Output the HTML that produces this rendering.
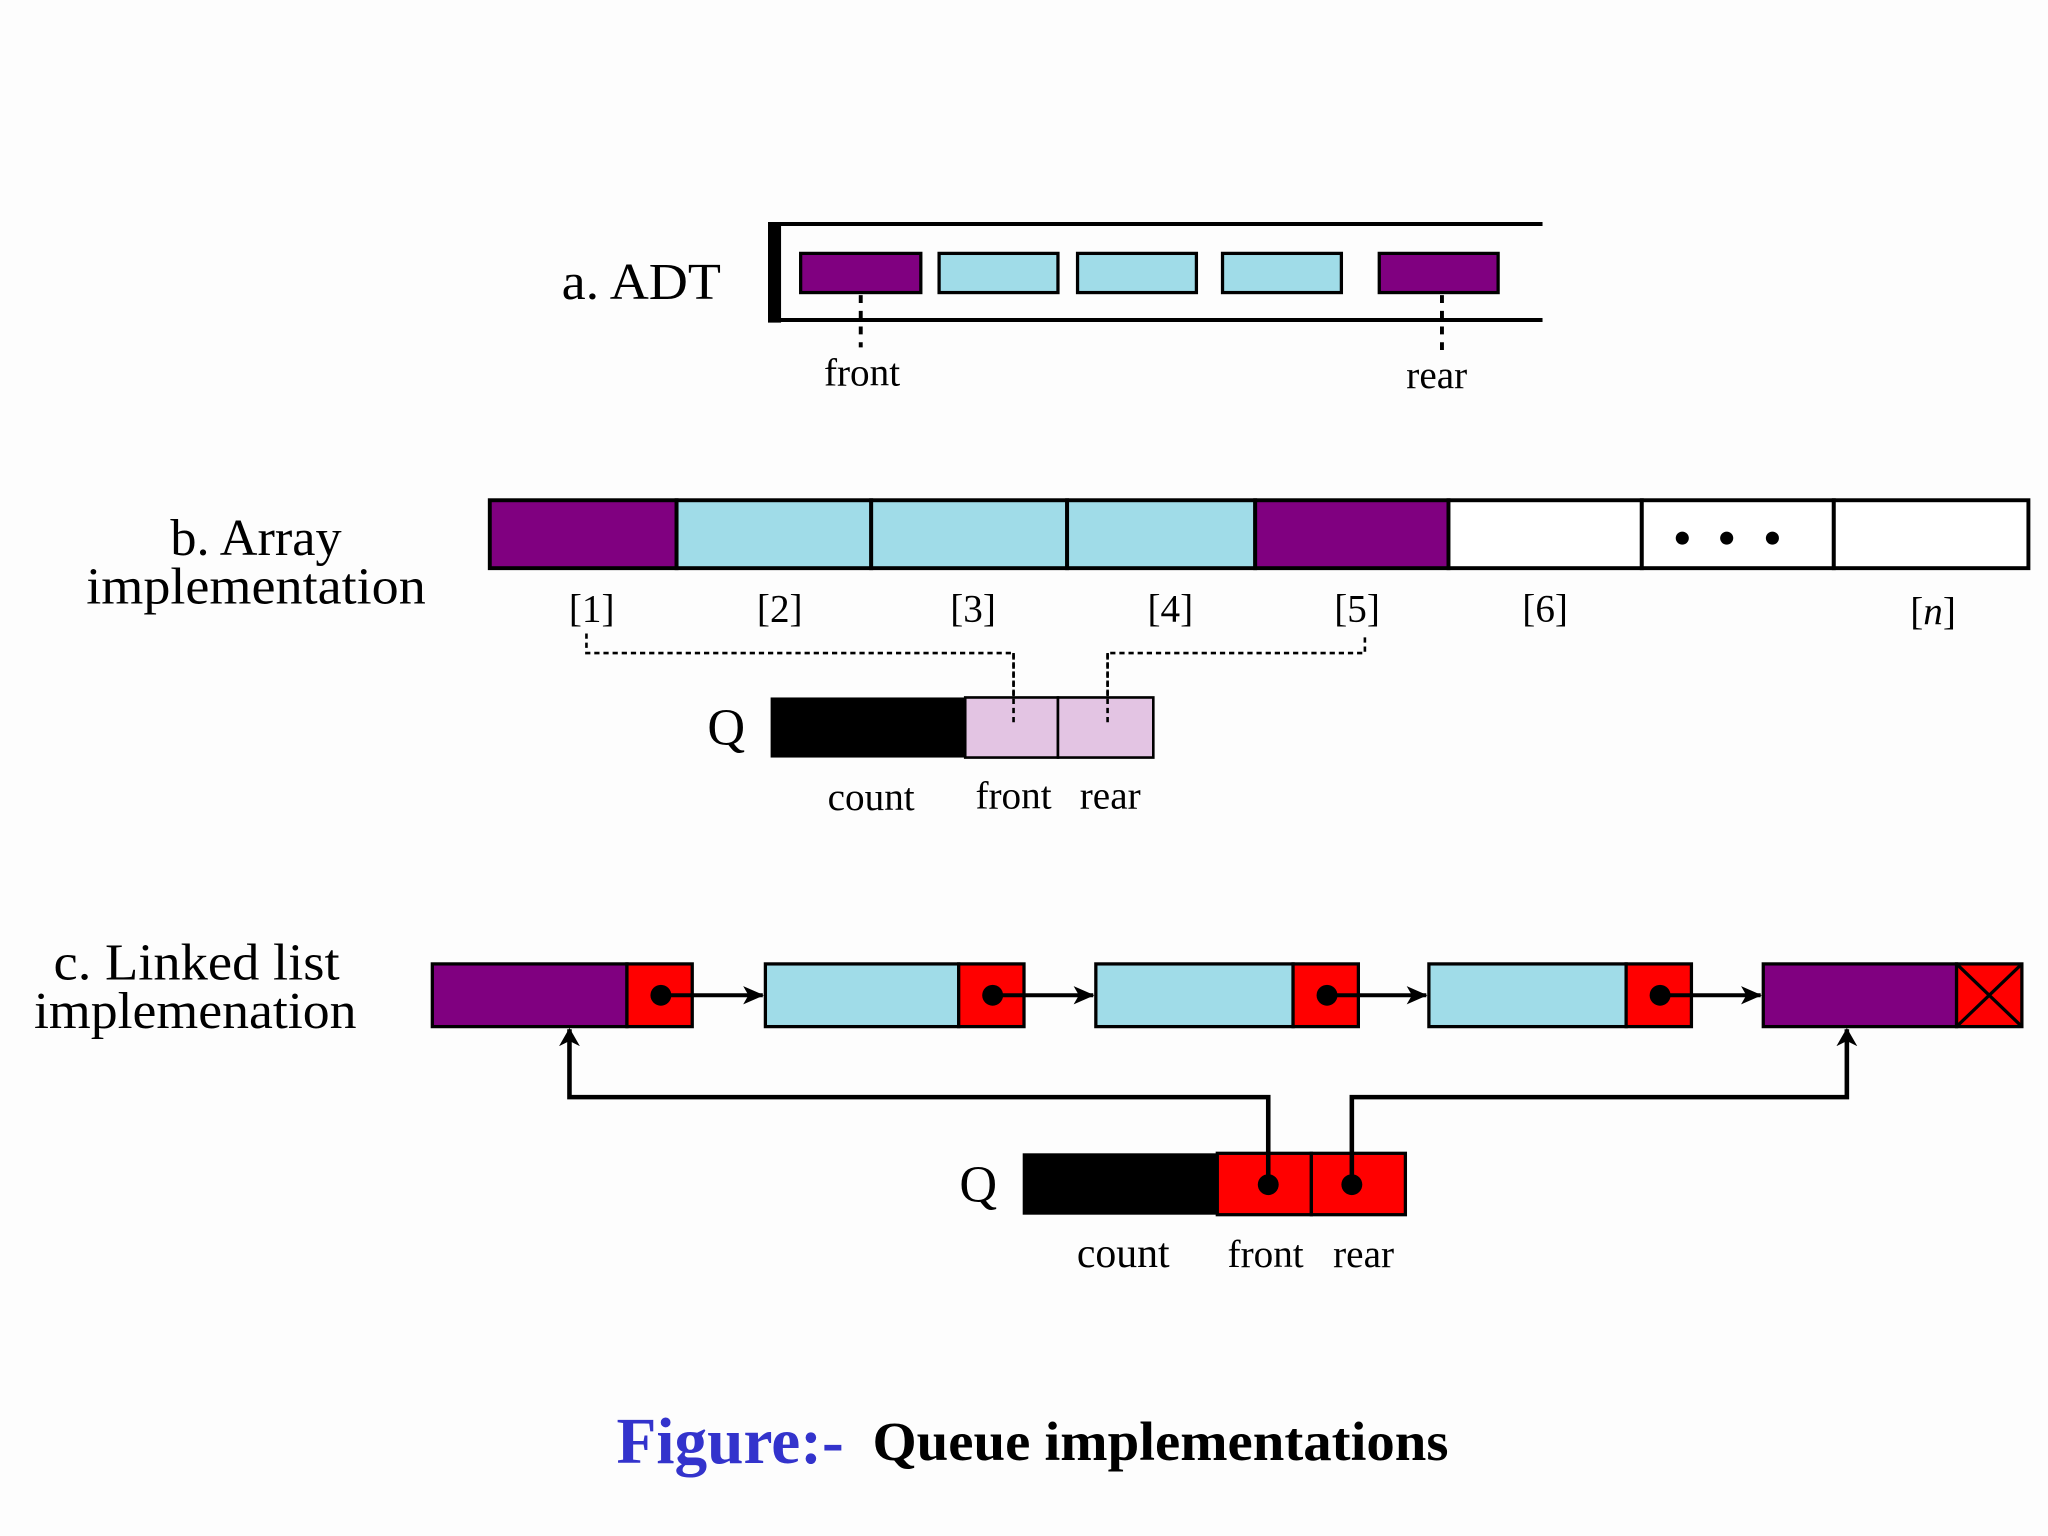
<!DOCTYPE html>
<html><head><meta charset="utf-8"><style>
html,body{margin:0;padding:0;background:#fdfdfd;}
svg{display:block;}
text{font-family:"Liberation Serif",serif;fill:#000;}
</style></head><body>
<svg width="2048" height="1536" viewBox="0 0 1568 1176" xmlns="http://www.w3.org/2000/svg">
<defs>
<marker id="ah" markerWidth="16" markerHeight="14" refX="15" refY="7" orient="auto" markerUnits="userSpaceOnUse">
<path d="M0,0 L16,7 L0,14 L4,7 z" fill="#000"/>
</marker>
<marker id="ah2" markerWidth="14" markerHeight="16" refX="13" refY="8" orient="auto" markerUnits="userSpaceOnUse">
<path d="M0,0 L14,8 L0,16 L4,8 z" fill="#000"/>
</marker>
</defs>
<rect width="1568" height="1176" fill="#fdfdfd"/>

<!-- a. ADT -->
<text x="430" y="229" font-size="40" textLength="122" lengthAdjust="spacingAndGlyphs">a. ADT</text>
<rect x="588" y="170" width="10" height="77" fill="#000"/>
<line x1="588" y1="171.5" x2="1181" y2="171.5" stroke="#000" stroke-width="3"/>
<line x1="588" y1="245" x2="1181" y2="245" stroke="#000" stroke-width="3"/>
<g stroke="#000" stroke-width="2.5">
<rect x="613" y="194" width="92" height="30" fill="#800080"/>
<rect x="719" y="194" width="91" height="30" fill="#a0dce8"/>
<rect x="825" y="194" width="91" height="30" fill="#a0dce8"/>
<rect x="936" y="194" width="91" height="30" fill="#a0dce8"/>
<rect x="1056" y="194" width="91" height="30" fill="#800080"/>
</g>
<line x1="659" y1="226" x2="659" y2="266" stroke="#000" stroke-width="3" stroke-dasharray="6,6"/>
<line x1="1104" y1="226" x2="1104" y2="272" stroke="#000" stroke-width="3" stroke-dasharray="6,6"/>
<text x="660" y="295" font-size="30" text-anchor="middle">front</text>
<text x="1100" y="297" font-size="30" text-anchor="middle">rear</text>

<!-- b. Array -->
<text x="196" y="425" font-size="40" text-anchor="middle">b. Array</text>
<text x="66" y="462" font-size="40" textLength="260" lengthAdjust="spacingAndGlyphs">implementation</text>
<g stroke="#000" stroke-width="3">
<rect x="375" y="383" width="143" height="52" fill="#800080"/>
<rect x="518" y="383" width="149" height="52" fill="#a0dce8"/>
<rect x="667" y="383" width="150" height="52" fill="#a0dce8"/>
<rect x="817" y="383" width="144" height="52" fill="#a0dce8"/>
<rect x="961" y="383" width="148" height="52" fill="#800080"/>
<rect x="1109" y="383" width="148" height="52" fill="#fff"/>
<rect x="1257" y="383" width="147" height="52" fill="#fff"/>
<rect x="1404" y="383" width="149" height="52" fill="#fff"/>
</g>
<circle cx="1288" cy="412" r="5"/><circle cx="1322" cy="412" r="5"/><circle cx="1357" cy="412" r="5"/>
<g font-size="30" text-anchor="middle">
<text x="453" y="476">[1]</text><text x="597" y="476">[2]</text><text x="745" y="476">[3]</text>
<text x="896" y="476">[4]</text><text x="1039" y="476">[5]</text><text x="1183" y="476">[6]</text>
<text x="1480" y="478">[<tspan font-style="italic">n</tspan>]</text>
</g>
<polyline points="449,485 449,500 776,500 776,556" fill="none" stroke="#000" stroke-width="2" stroke-dasharray="4,3"/>
<polyline points="1045,488 1045,500 848,500 848,556" fill="none" stroke="#000" stroke-width="2" stroke-dasharray="4,3"/>
<rect x="590" y="534" width="149" height="46" fill="#000"/>
<g stroke="#000" stroke-width="2">
<rect x="739" y="534" width="71" height="46" fill="#e3c4e3"/>
<rect x="810" y="534" width="73" height="46" fill="#e3c4e3"/>
</g>
<polyline points="776,500 776,556" fill="none" stroke="#000" stroke-width="2" stroke-dasharray="4,3"/>
<polyline points="848,500 848,556" fill="none" stroke="#000" stroke-width="2" stroke-dasharray="4,3"/>
<text x="556" y="570" font-size="40" text-anchor="middle">Q</text>
<text x="667" y="620" font-size="30" text-anchor="middle">count</text>
<text x="776" y="619" font-size="30" text-anchor="middle">front</text>
<text x="850" y="619" font-size="30" text-anchor="middle">rear</text>

<!-- c. Linked list -->
<text x="41" y="750" font-size="40" textLength="219" lengthAdjust="spacingAndGlyphs">c. Linked list</text>
<text x="26" y="787" font-size="40" textLength="247" lengthAdjust="spacingAndGlyphs">implemenation</text>
<g stroke="#000" stroke-width="2.5">
<rect x="331" y="738" width="149" height="48" fill="#800080"/><rect x="480" y="738" width="50" height="48" fill="#f00"/>
<rect x="586" y="738" width="148" height="48" fill="#a0dce8"/><rect x="734" y="738" width="50" height="48" fill="#f00"/>
<rect x="839" y="738" width="151" height="48" fill="#a0dce8"/><rect x="990" y="738" width="50" height="48" fill="#f00"/>
<rect x="1094" y="738" width="151" height="48" fill="#a0dce8"/><rect x="1245" y="738" width="50" height="48" fill="#f00"/>
<rect x="1350" y="738" width="148" height="48" fill="#800080"/><rect x="1498" y="738" width="50" height="48" fill="#f00"/>
<line x1="1498" y1="738" x2="1548" y2="786"/><line x1="1548" y1="738" x2="1498" y2="786"/>
</g>
<g stroke="#000" stroke-width="3" marker-end="url(#ah)">
<line x1="506" y1="762" x2="584" y2="762"/>
<line x1="760" y1="762" x2="837" y2="762"/>
<line x1="1016" y1="762" x2="1092" y2="762"/>
<line x1="1271" y1="762" x2="1348" y2="762"/>
</g>
<circle cx="506" cy="762" r="8"/><circle cx="760" cy="762" r="8"/><circle cx="1016" cy="762" r="8"/><circle cx="1271" cy="762" r="8"/>
<rect x="783" y="883" width="149" height="47" fill="#000"/>
<g stroke="#000" stroke-width="2.5">
<rect x="932" y="883" width="72" height="47" fill="#f00"/>
<rect x="1004" y="883" width="72" height="47" fill="#f00"/>
</g>
<polyline points="971,907 971,840 436,840 436,788" fill="none" stroke="#000" stroke-width="3.5" marker-end="url(#ah2)"/>
<polyline points="1035,907 1035,840 1414,840 1414,788" fill="none" stroke="#000" stroke-width="3.5" marker-end="url(#ah2)"/>
<circle cx="971" cy="907" r="8"/><circle cx="1035" cy="907" r="8"/>
<text x="749" y="920" font-size="40" text-anchor="middle">Q</text>
<text x="860" y="970" font-size="32" text-anchor="middle">count</text>
<text x="969" y="970" font-size="30" text-anchor="middle">front</text>
<text x="1044" y="970" font-size="30" text-anchor="middle">rear</text>

<!-- Title -->
<text x="472" y="1120" font-size="50" font-weight="bold" style="fill:#3333cc">Figure:-</text>
<text x="668" y="1118" font-size="42" font-weight="bold" textLength="441" lengthAdjust="spacingAndGlyphs">Queue implementations</text>
</svg>
</body></html>
